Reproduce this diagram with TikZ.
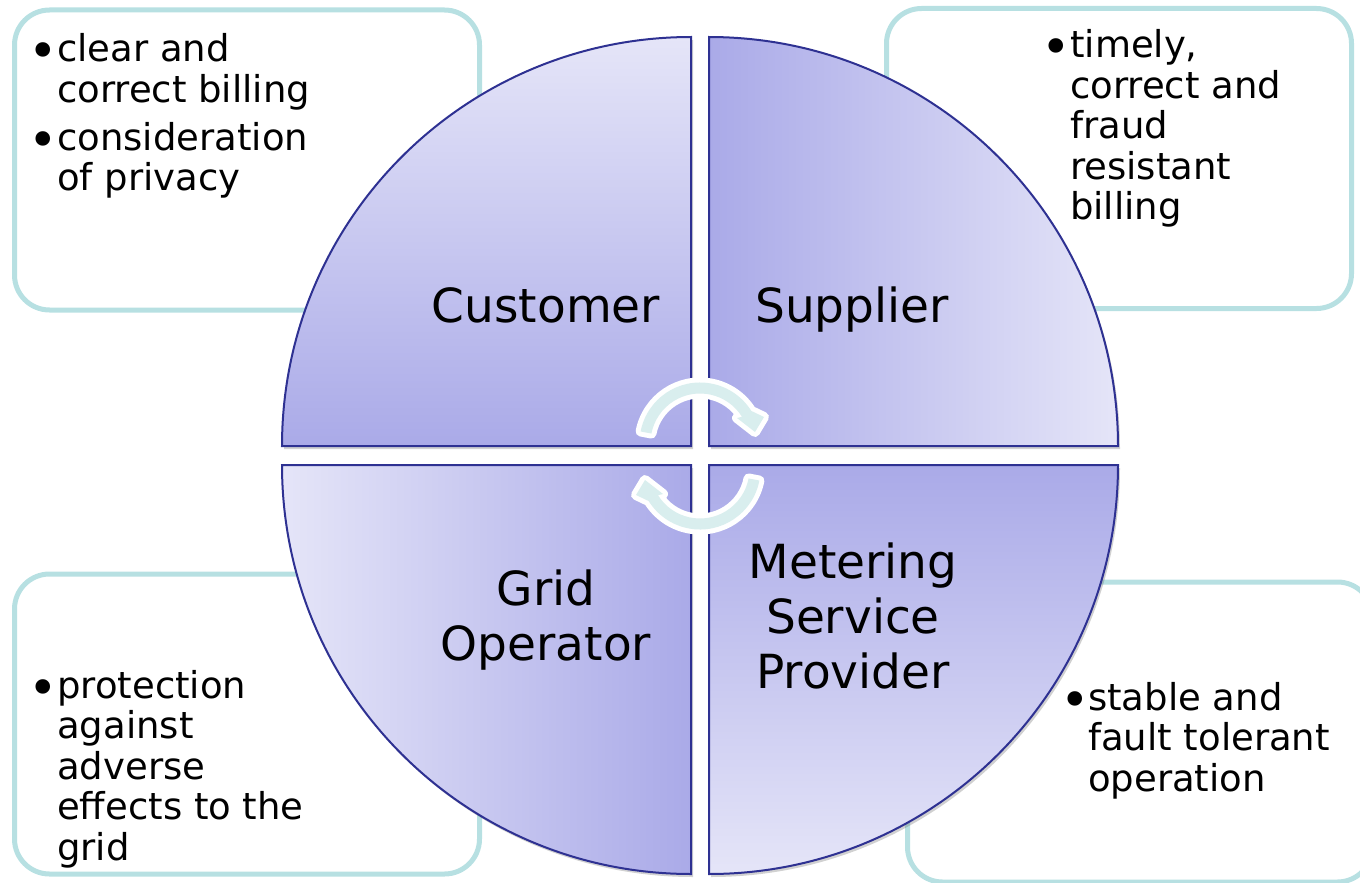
\documentclass[tikz,border=0pt]{standalone}
\usepackage{fontspec}
\setmainfont{DejaVu Sans}
\usetikzlibrary{shadows}
\definecolor{qdark}{HTML}{AAAAE8}
\definecolor{qlight}{HTML}{E5E5F8}
\definecolor{qborder}{HTML}{2E3192}
\definecolor{boxline}{HTML}{B7E0E2}
\definecolor{arrfill}{HTML}{D9EEEE}
\newcommand{\bu}{\hspace*{-7pt}\raisebox{-7pt}{\fontsize{50}{50}\selectfont\textbullet}}
\begin{document}
\begin{tikzpicture}[x=1pt,y=-1pt,
  quad/.style={draw=qborder, line width=2pt, line join=miter,
    drop shadow={shadow xshift=2pt, shadow yshift=-3pt, opacity=0.3, fill=black!60}},
  infobox/.style={draw=boxline, line width=5pt, fill=white, rounded corners=35pt,
    minimum width=465pt, minimum height=300pt, inner sep=0pt},
  bullets/.style={anchor=base west, inner sep=0pt, font=\fontsize{37}{40.5}\selectfont},
  lab/.style={anchor=base, inner sep=0pt, font=\fontsize{47}{55}\selectfont},
  arrowsty/.style={fill=arrfill, preaction={draw=white, line width=10pt, line join=round}}]
\clip (0,0) rectangle (1360,883);
% info boxes
\node[infobox] (boxtl) at (247,160) {};
\node[infobox] (boxtr) at (1119,158.5) {};
\node[infobox] (boxbl) at (247,724) {};
\node[infobox] (boxbr) at (1140,732) {};
% quadrants
\shadedraw[quad, top color=qlight, bottom color=qdark]
  (691,446) -- (282,446) arc[start angle=180, end angle=270, radius=409] -- cycle;
\shadedraw[quad, left color=qdark, right color=qlight]
  (709,446) -- (709,37) arc[start angle=270, end angle=360, radius=409] -- cycle;
\shadedraw[quad, left color=qlight, right color=qdark]
  (691,465) -- (691,874) arc[start angle=90, end angle=180, radius=409] -- cycle;
\shadedraw[quad, top color=qdark, bottom color=qlight]
  (709,465) -- (1118,465) arc[start angle=0, end angle=90, radius=409] -- cycle;
% cycle arrows
\begin{scope}[shift={(700,443)}]
\path[arrowsty] (191:60.5) arc[start angle=191, end angle=328, radius=60.5]
  -- (64,-26) -- (55,-11) -- (37,-25) -- (328:49.5)
  arc[start angle=328, end angle=191, radius=49.5] -- cycle;
\end{scope}
\begin{scope}[shift={(700,469)}, rotate=180]
\path[arrowsty] (191:60.5) arc[start angle=191, end angle=328, radius=60.5]
  -- (64,-26) -- (55,-11) -- (37,-25) -- (328:49.5)
  arc[start angle=328, end angle=191, radius=49.5] -- cycle;
\end{scope}
% labels
\node[lab] (cust) at (546,322) {Customer};
\node[lab] (supp) at (852,322) {Supplier};
\node[lab] (grid) at (546,605) {\begin{tabular}[t]{@{}c@{}}Grid\\Operator\end{tabular}};
\node[lab] (msp) at (853,578) {\begin{tabular}[t]{@{}c@{}}Metering\\Service\\Provider\end{tabular}};
% bullet texts
\node[bullets] (ttl) at (35,62) {\begin{tabular}[t]{@{}p{22pt}@{}l@{}}
  \bu & clear and\\ & correct billing\\[7.5pt]
  \bu & consideration\\ & of privacy\end{tabular}};
\node[bullets] (ttr) at (1048,58) {\begin{tabular}[t]{@{}p{22pt}@{}l@{}}
  \bu & timely,\\ & correct and\\ & fraud\\ & resistant\\ & billing\end{tabular}};
\node[bullets] (tbl) at (35,698) {\begin{tabular}[t]{@{}p{22pt}@{}l@{}}
  \bu & protection\\ & against\\ & adverse\\ & effects to the\\ & grid\end{tabular}};
\node[bullets] (tbr) at (1067,710) {\begin{tabular}[t]{@{}p{21pt}@{}l@{}}
  \bu & stable and\\ & fault tolerant\\ & operation\end{tabular}};
\end{tikzpicture}
\end{document}
